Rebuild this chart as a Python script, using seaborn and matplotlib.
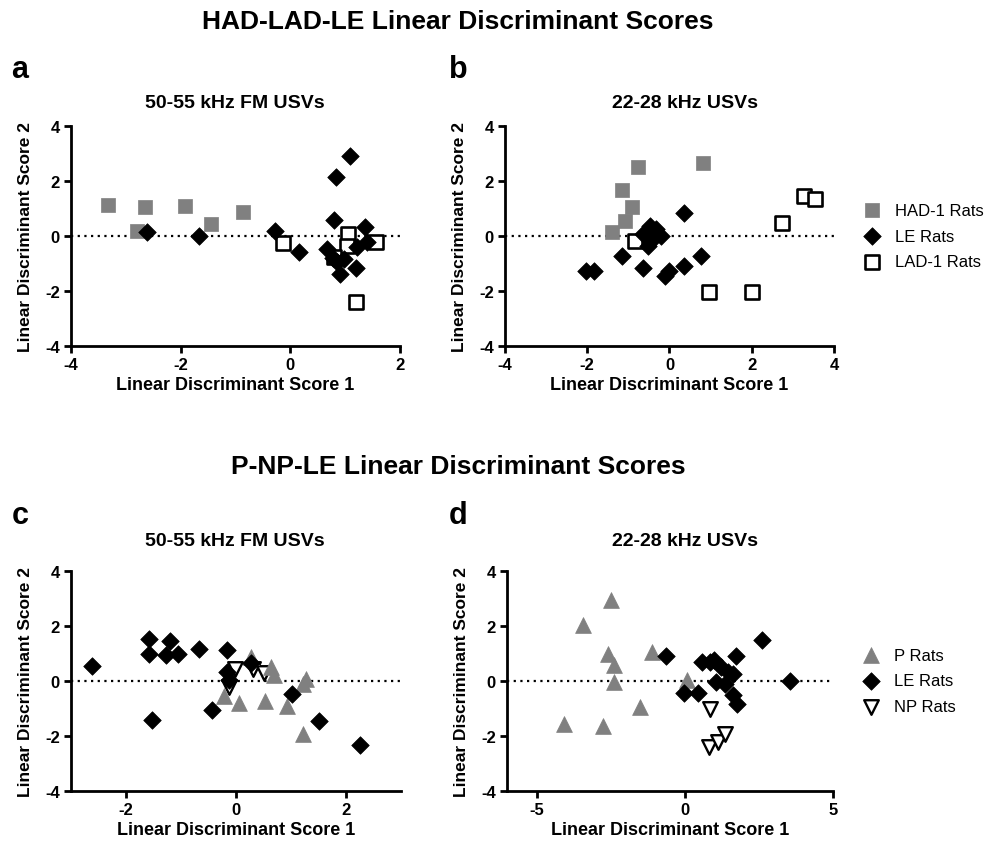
import numpy as np
import pandas as pd
import matplotlib
matplotlib.use("Agg")
import matplotlib.pyplot as plt
import seaborn as sns

# ---------------- data ----------------
# Panel a: HAD-LAD-LE, 50-55 kHz FM USVs
a_had_x = [-3.33, -2.65, -2.79, -1.93, -1.45, -0.86]
a_had_y = [1.14, 1.07, 0.19, 1.10, 0.42, 0.88]
a_le_x = [-2.61, -1.67, -0.28, 0.16, 1.09, 0.84, 0.80, 1.36, 0.67, 1.21, 1.39, 0.97, 0.85, 0.90, 1.20, 0.78]
a_le_y = [0.16, -0.01, 0.19, -0.57, 2.90, 2.15, 0.58, 0.31, -0.47, -0.41, -0.21, -0.84, -0.96, -1.38, -1.18, -0.80]
a_lad_x = [-0.13, 1.05, 1.03, 1.56, 0.79, 1.20]
a_lad_y = [-0.25, 0.06, -0.38, -0.23, -0.78, -2.41]

# Panel b: HAD-LAD-LE, 22-28 kHz USVs
b_had_x = [-1.41, -1.07, -0.91, -1.15, -0.76, 0.81]
b_had_y = [0.15, 0.55, 1.07, 1.67, 2.50, 2.66]
b_le_x = [-2.03, -1.83, -1.15, -0.65, -0.10, 0.00, 0.36, 0.36, 0.77, -0.56, -0.48, -0.32, -0.20, -0.52, -0.40, -0.65]
b_le_y = [-1.26, -1.26, -0.71, -1.18, -1.46, -1.28, -1.10, 0.83, -0.73, 0.12, 0.37, 0.24, 0.00, -0.37, -0.12, 0.06]
b_lad_x = [-0.85, 0.97, 2.00, 2.74, 3.27, 3.55]
b_lad_y = [-0.18, -2.04, -2.04, 0.46, 1.46, 1.34]

# Panel c: P-NP-LE, 50-55 kHz FM USVs
c_p_x = [0.27, 0.64, 0.69, 1.27, 1.21, -0.22, 0.05, 0.53, 0.93, 1.21]
c_p_y = [0.88, 0.51, 0.21, 0.06, -0.10, -0.55, -0.79, -0.74, -0.91, -1.93]
c_le_x = [-2.62, -1.58, -1.58, -1.20, -1.28, -1.05, -0.67, -0.16, -1.52, -0.44, -0.16, -0.13, 0.27, 1.02, 1.51, 2.25]
c_le_y = [0.55, 1.52, 1.00, 1.45, 0.94, 0.98, 1.18, 1.12, -1.41, -1.07, 0.33, 0.02, 0.67, -0.49, -1.44, -2.32]
c_np_x = [-0.13, -0.02, 0.30, 0.50]
c_np_y = [-0.20, 0.45, 0.45, 0.30]

# Panel d: P-NP-LE, 22-28 kHz USVs
d_p_x = [-4.08, -3.44, -2.77, -2.48, -2.59, -2.38, -2.40, -1.51, -1.12, 0.06]
d_p_y = [-1.56, 2.03, -1.62, 2.94, 1.00, 0.60, -0.04, -0.95, 1.06, 0.02]
d_le_x = [-0.65, -0.03, 0.45, 0.59, 1.00, 1.23, 1.45, 1.62, 1.06, 1.34, 1.73, 1.62, 1.77, 2.60, 3.55, 0.84]
d_le_y = [0.90, -0.44, -0.44, 0.69, 0.75, 0.51, 0.33, 0.27, -0.04, -0.10, 0.90, -0.52, -0.83, 1.48, 0.00, 0.69]
d_np_x = [0.84, 0.82, 1.12, 1.34]
d_np_y = [-1.01, -2.41, -2.23, -1.92]

top_labels = ["HAD-1 Rats", "LE Rats", "LAD-1 Rats"]
bot_labels = ["P Rats", "LE Rats", "NP Rats"]

# ---------------- style ----------------
sns.set_theme(style="ticks")
plt.rcParams["font.family"] = ["Liberation Sans", "DejaVu Sans"]
plt.rcParams["font.weight"] = "bold"
for k in ["text.color", "axes.labelcolor", "xtick.color", "ytick.color", "axes.edgecolor"]:
    plt.rcParams[k] = "black"

W, H = 989, 853
fig = plt.figure(figsize=(W / 100, H / 100), dpi=100)

def px_axes(left, top, right, bottom):
    return fig.add_axes([left / W, 1 - bottom / H, (right - left) / W, (bottom - top) / H])

ax_a = px_axes(71, 127, 400, 347)
ax_b = px_axes(505, 127, 834, 347)
ax_c = px_axes(71, 572, 401, 792)
ax_d = px_axes(507, 572, 833, 792)

GRAY = "#808080"

def scat(ax, x, y, marker, face, edge, size, lw, label, z):
    df = pd.DataFrame({"x": x, "y": y})
    sns.scatterplot(data=df, x="x", y="y", ax=ax, marker=marker, color=face,
                    edgecolor=edge, s=size, linewidth=lw, label=label, zorder=z,
                    legend=False)

def style_axis(ax, xlim, xticks):
    ax.axhline(0, ls=(0, (1, 2.0)), color="black", lw=1.6, zorder=1)
    ax.set_xlim(*xlim)
    ax.set_ylim(-4, 4)
    ax.set_xticks(xticks)
    ax.set_yticks([-4, -2, 0, 2, 4])
    ax.set_xticklabels([str(t) for t in xticks])
    ax.set_yticklabels(["-4", "-2", "0", "2", "4"])
    for s in ["top", "right"]:
        ax.spines[s].set_visible(False)
    for s in ["left", "bottom"]:
        ax.spines[s].set_linewidth(2)
        ax.spines[s].set_color("black")
    ax.tick_params(axis="both", direction="out", length=5, width=2, color="black",
                   labelsize=12, pad=3, labelcolor="black")
    for lab in ax.get_xticklabels() + ax.get_yticklabels():
        lab.set_fontweight("bold")
    ax.set_xlabel("Linear Discriminant Score 1", fontsize=13, fontweight="bold", labelpad=3)
    ax.set_ylabel("Linear Discriminant Score 2", fontsize=12.5, fontweight="bold", labelpad=9)
    ax.set_facecolor("white")

# top panels
for ax, hx, hy, lx, ly, dx, dy in [
    (ax_a, a_had_x, a_had_y, a_le_x, a_le_y, a_lad_x, a_lad_y),
    (ax_b, b_had_x, b_had_y, b_le_x, b_le_y, b_lad_x, b_lad_y),
]:
    scat(ax, hx, hy, "s", GRAY, GRAY, 110, 0.5, top_labels[0], 3)
    scat(ax, dx, dy, "s", "white", "black", 110, 1.9, top_labels[2], 4)
    scat(ax, lx, ly, "D", "black", "black", 80, 0.5, top_labels[1], 5)

style_axis(ax_a, (-4, 2), [-4, -2, 0, 2])
style_axis(ax_b, (-4, 4), [-4, -2, 0, 2, 4])

# bottom panels
for ax, px_, py_, lx, ly, nx, ny in [
    (ax_c, c_p_x, c_p_y, c_le_x, c_le_y, c_np_x, c_np_y),
    (ax_d, d_p_x, d_p_y, d_le_x, d_le_y, d_np_x, d_np_y),
]:
    scat(ax, nx, ny, "v", "white", "black", 110, 1.7, bot_labels[2], 3)
    scat(ax, px_, py_, "^", GRAY, GRAY, 130, 0.5, bot_labels[0], 4)
    scat(ax, lx, ly, "D", "black", "black", 80, 0.5, bot_labels[1], 5)

style_axis(ax_c, (-3, 3), [-2, 0, 2])
style_axis(ax_d, (-6, 5), [-5, 0, 5])

# legends
def make_legend(ax, order, y_anchor):
    h, l = ax.get_legend_handles_labels()
    d = dict(zip(l, h))
    leg = ax.legend([d[k] for k in order], order, loc="center left",
                    bbox_to_anchor=(1.055, y_anchor), frameon=False,
                    handletextpad=0.6, labelspacing=0.65, borderaxespad=0,
                    handlelength=1.6,
                    prop={"weight": "normal", "size": 12})
    for t in leg.get_texts():
        t.set_color("black")
    return leg

make_legend(ax_b, top_labels, 0.5)
make_legend(ax_d, bot_labels, 0.5)

# titles and panel letters
def ftext(x, y, s, size, **kw):
    fig.text(x / W, 1 - y / H, s, fontsize=size, fontweight="bold", ha="center", va="center",
             color="black", **kw)

ftext(458, 22, "HAD-LAD-LE Linear Discriminant Scores", 19)
ftext(458, 467, "P-NP-LE Linear Discriminant Scores", 19)
ftext(20, 70, "a", 22)
ftext(458, 70, "b", 22)
ftext(20, 516, "c", 22)
ftext(458, 516, "d", 22)
ftext(235, 103, "50-55 kHz FM USVs", 14)
ftext(685, 103, "22-28 kHz USVs", 14)
ftext(235, 541, "50-55 kHz FM USVs", 14)
ftext(685, 541, "22-28 kHz USVs", 14)

fig.savefig("out.png", dpi=100, facecolor="white")
